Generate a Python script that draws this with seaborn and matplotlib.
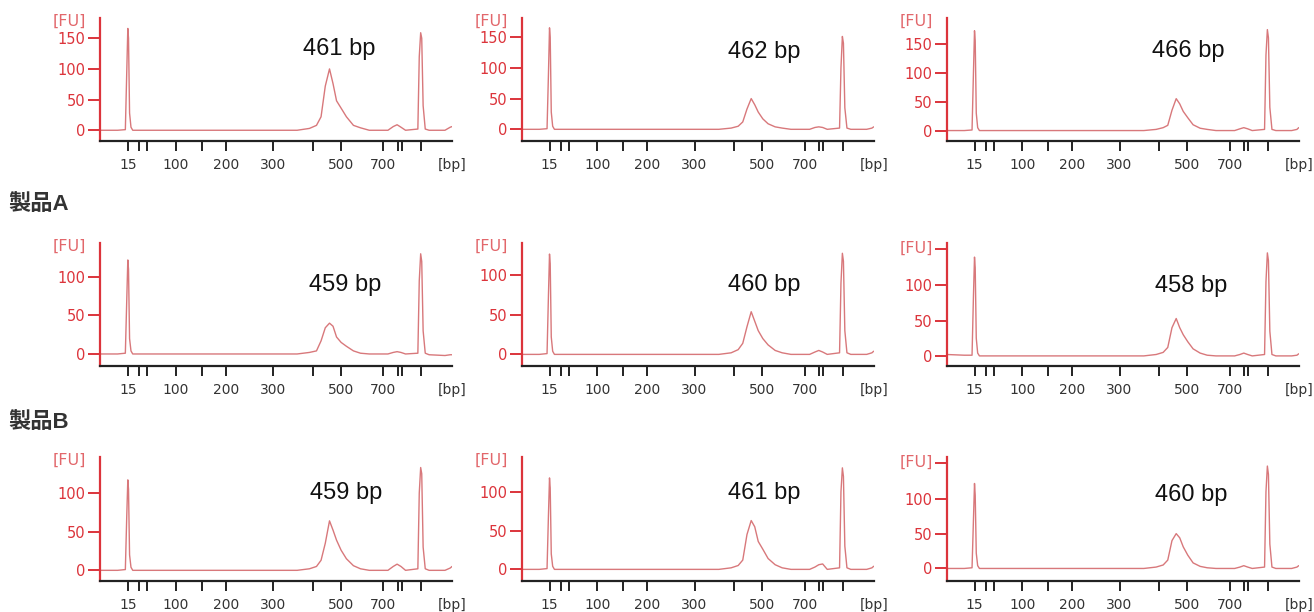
import matplotlib
matplotlib.use("Agg")
import matplotlib.pyplot as plt
import seaborn as sns
import pandas as pd

sns.set_style("white")
plt.rcParams['font.family'] = ['DejaVu Sans', 'Noto Sans CJK JP']

# ---------------- data ----------------
# migration position (arbitrary units, 0-100) of the sizing ladder bands
LADDER_BP = [15, 25, 50, 100, 150, 200, 300, 400, 500, 700, 850, 1000, 1500]
LADDER_POS = [7.9, 11.2, 13.3, 21.5, 28.9, 35.7, 49.1, 60.4, 68.4, 80.5, 84.6, 85.7, 91.2]
LABELED_BP = [15, 100, 200, 300, 500, 700]

# sample points along the migration axis (shared by all traces)
X_KEYS = [0.0, 5.0, 7.2, 7.6, 7.9, 8.1, 8.4, 8.8, 9.3, 25.0, 45.0, 56.0,
          59.5, 61.5, 62.8, 64.0, 65.2, 66.2, 67.2, 68.5, 70.0, 72.0, 74.0, 76.5,
          81.8, 83.3, 84.4, 85.5, 86.8, 90.3, 90.7, 91.1, 91.4, 91.8, 92.4, 93.5,
          98.0, 99.5, 100.0]

# fluorescence [FU] traces
TRACE_R1C1 = [0, 0, 1, 95, 166, 150, 28, 5, 0, 0, 0, 0, 3, 8, 22, 72, 100, 76, 48, 36, 22, 8, 4, 0,
              0, 6, 9, 5, 0, 2, 120, 159, 150, 40, 2, 0, 0, 5, 6]
TRACE_R1C2 = [0, 0, 1, 90, 165, 150, 28, 5, 0, 0, 0, 0, 2, 5, 12, 33, 50, 40, 28, 17, 9, 4, 2, 0,
              0, 3, 4, 3, 0, 2, 100, 151, 140, 35, 2, 0, 0, 2, 4]
TRACE_R1C3 = [0, 0, 1, 100, 172, 155, 30, 5, 0, 0, 0, 0, 2, 5, 9, 35, 55, 46, 33, 22, 10, 4, 2, 0,
              0, 3, 5, 3, 0, 2, 130, 174, 160, 40, 2, 0, 0, 2, 5]
TRACE_A1 = [0, 0, 1, 70, 122, 110, 20, 4, 0, 0, 0, 0, 2, 4, 17, 34, 40, 36, 22, 15, 10, 4, 1, 0,
            0, 2, 3, 2, 0, 1, 95, 130, 120, 30, 1, -1, -2, -1, -1]
TRACE_A2 = [0, 0, 1, 75, 127, 115, 22, 4, 0, 0, 0, 0, 2, 6, 14, 35, 54, 42, 30, 20, 12, 5, 2, 0,
            0, 3, 5, 3, 0, 2, 90, 128, 118, 30, 2, 0, 0, 2, 4]
TRACE_A3 = [2, 1, 1, 85, 140, 125, 25, 4, 0, 0, 0, 0, 2, 5, 12, 40, 53, 40, 30, 20, 10, 4, 1, 0,
            0, 2, 4, 2, 0, 2, 105, 146, 135, 35, 2, 0, 0, 1, 3]
TRACE_B1 = [0, 0, 1, 70, 117, 105, 20, 4, 0, 0, 0, 0, 2, 5, 13, 35, 64, 52, 39, 26, 15, 6, 2, 0,
            0, 5, 8, 5, 0, 2, 100, 133, 125, 30, 2, 0, 0, 3, 5]
TRACE_B2 = [0, 0, 1, 70, 118, 105, 20, 4, 0, 0, 0, 0, 2, 5, 12, 45, 63, 55, 36, 26, 14, 6, 2, 0,
            0, 3, 6, 7, 0, 2, 100, 131, 120, 30, 2, 0, 0, 2, 4]
TRACE_B3 = [0, 0, 1, 70, 122, 105, 22, 4, 0, 0, 0, 0, 2, 5, 12, 40, 50, 44, 31, 19, 8, 3, 1, 0,
            0, 2, 4, 2, 0, 2, 110, 147, 135, 35, 2, 0, 0, 2, 4]

SIZES_ROW1 = [461, 462, 466]
SIZES_A = [459, 460, 458]
SIZES_B = [459, 461, 460]
ROW_LABELS = ["", "製品A", "製品B"]

TRACES = [[TRACE_R1C1, TRACE_R1C2, TRACE_R1C3],
          [TRACE_A1, TRACE_A2, TRACE_A3],
          [TRACE_B1, TRACE_B2, TRACE_B3]]
SIZES = [SIZES_ROW1, SIZES_A, SIZES_B]

YTICKS_ROW = [[0, 50, 100, 150], [0, 50, 100], [0, 50, 100]]

# ---------------- layout / style ----------------
W, H = 1314, 612
COL_LEFT = [100, 521.7, 946.7]
AX_W = 352
ROW_TOP = [18, 243, 457]
ROW_BOTTOM = [141, 366, 581]
YLIMS = [[(-17.5, 183), (-19, 181), (-18, 194)],
         [(-15.6, 144), (-14.7, 141), (-14.3, 160)],
         [(-13.8, 146.6), (-15, 145), (-18, 160)]]
LABEL_POS = [[(0.68, 0.75), (0.69, 0.72), (0.685, 0.73)],
             [(0.696, 0.66), (0.69, 0.66), (0.695, 0.65)],
             [(0.70, 0.71), (0.69, 0.71), (0.695, 0.69)]]

RED = '#dc343b'
RED_LIGHT = '#e2676b'
TRACE_COLOR = '#d8787b'
DARK = '#222222'

fig = plt.figure(figsize=(W / 100, H / 100), dpi=100)
fig.patch.set_facecolor('white')

for r in range(3):
    for c in range(3):
        left = COL_LEFT[c]
        top, bottom = ROW_TOP[r], ROW_BOTTOM[r]
        ax = fig.add_axes([left / W, 1 - bottom / H, AX_W / W, (bottom - top) / H])
        ax.set_facecolor('white')
        df = pd.DataFrame({'pos': X_KEYS, 'fu': TRACES[r][c]})
        sns.lineplot(data=df, x='pos', y='fu', ax=ax, color=TRACE_COLOR,
                     linewidth=1.0, estimator=None, sort=False)
        ax.set_xlim(0, 100)
        ax.set_ylim(*YLIMS[r][c])
        ax.set_xlabel('')
        ax.set_ylabel('')

        # x axis: ladder ticks
        xlabels = [str(b) if b in LABELED_BP else '' for b in LADDER_BP]
        ax.set_xticks(LADDER_POS, labels=xlabels)
        ax.tick_params(axis='x', direction='out', length=7, width=1.4, color=DARK,
                       labelsize=10, labelcolor='#333333', pad=5.5, bottom=True)

        # y axis
        yt = list(YTICKS_ROW[r])
        ylab = [str(v) for v in yt]
        fu_frac = 0.975
        if c == 2 and r > 0:
            lo, hi = YLIMS[r][c]
            yt.append(152)
            ylab.append('')
            fu_frac = (152 - lo) / (hi - lo)
        ax.set_yticks(yt, labels=ylab)
        ax.tick_params(axis='y', direction='out', length=9, width=1.4, color=RED,
                       labelsize=10.5, labelcolor=RED, pad=1.5, left=True)

        for s in ['top', 'right']:
            ax.spines[s].set_visible(False)
        ax.spines['left'].set_color(RED)
        ax.spines['left'].set_linewidth(1.6)
        ax.spines['bottom'].set_color(DARK)
        ax.spines['bottom'].set_linewidth(1.6)

        ax.annotate('[FU]', xy=(0, fu_frac), xycoords='axes fraction',
                    xytext=(-10, 0), textcoords='offset points', ha='right',
                    va='center', fontsize=11.5, color=RED_LIGHT)
        ax.annotate('[bp]', xy=(1.0, 0), xycoords='axes fraction',
                    xytext=(0, -17.5), textcoords='offset points', ha='center',
                    va='center', fontsize=10, color='#333333')

        lx, ly = LABEL_POS[r][c]
        ax.text(lx, ly, f"{SIZES[r][c]} bp", transform=ax.transAxes,
                ha='center', va='center', fontsize=17, color='#111111',
                family='Liberation Sans')

# row labels
for label, ycen in [(ROW_LABELS[1], 205), (ROW_LABELS[2], 422)]:
    fig.text(8 / W, 1 - ycen / H, label, fontsize=16, fontweight='bold',
             family=['Liberation Sans', 'Noto Sans CJK JP'], color='#333333',
             ha='left', va='center')

fig.savefig('out.png', dpi=100, facecolor='white')
